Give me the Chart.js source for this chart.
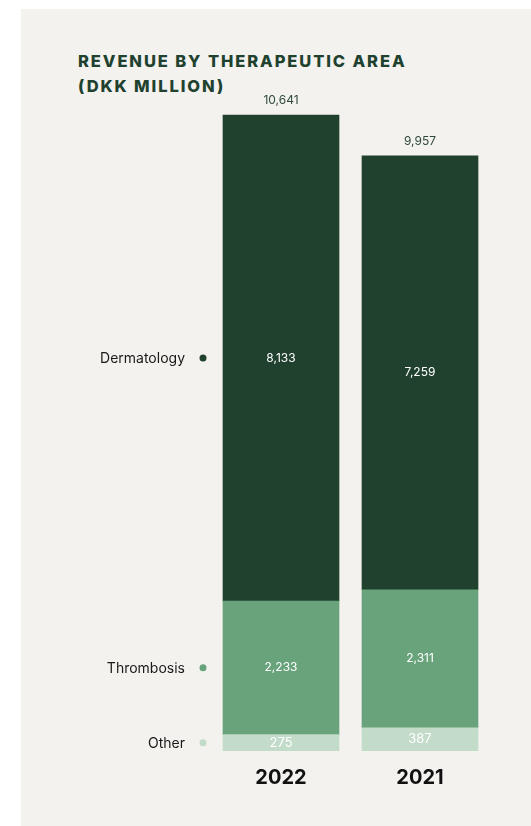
<!DOCTYPE html>
<html>
<head>
<meta charset="utf-8">
<script src="https://cdn.jsdelivr.net/npm/chart.js@4"></script>
<style>
  html, body { margin: 0; padding: 0; background: #ffffff; }
  body { width: 531px; height: 826px; position: relative; overflow: hidden; }
  #panel { position: absolute; left: 21px; top: 9px; right: 0; bottom: 0; background: #f3f2ee; }
  #title {
    position: absolute; left: 78px; top: 49px;
    font-family: "Inter", sans-serif; font-weight: 800; font-size: 16.5px;
    letter-spacing: 1.9px; line-height: 25px; color: #21412f;
  }
  #wrap { position: absolute; left: 0; top: 0; width: 531px; height: 826px; }
</style>
</head>
<body>
<div id="panel"></div>
<div id="title">REVENUE BY THERAPEUTIC AREA<br>(DKK MILLION)</div>
<div id="wrap"><canvas id="chart"></canvas></div>
<script>
const years = ['2022', '2021'];
const areas = ['Other', 'Thrombosis', 'Dermatology'];
const other = [275, 387];
const thrombosis = [2233, 2311];
const dermatology = [8133, 7259];
const totals = [10641, 9957];
const colors = ['#c3dbc9', '#68a37c', '#21412f'];

const fmt = v => v.toLocaleString('en-US');

// value labels, totals, side legend and year labels
const labelsPlugin = {
  id: 'labels',
  afterDatasetsDraw(chart) {
    const ctx = chart.ctx;
    const xs = chart.scales.x;
    ctx.save();
    ctx.textAlign = 'center';
    ctx.textBaseline = 'middle';
    chart.data.datasets.forEach((ds, i) => {
      const meta = chart.getDatasetMeta(i);
      meta.data.forEach((bar, j) => {
        const mid = (bar.y + bar.base) / 2;
        ctx.fillStyle = '#ffffff';
        ctx.font = (i === 0 ? '13px' : '12px') + ' Inter, sans-serif';
        ctx.fillText(fmt(ds.data[j]), bar.x, mid);
        if (j === 0) {
          ctx.textAlign = 'right';
          ctx.fillStyle = '#1a1a1a';
          ctx.font = '14px Inter, sans-serif';
          ctx.fillText(ds.label, 185, mid + 1);
          ctx.beginPath();
          ctx.arc(203, mid, 3.5, 0, Math.PI * 2);
          ctx.fillStyle = colors[i];
          ctx.fill();
          ctx.textAlign = 'center';
        }
      });
    });
    const top = chart.getDatasetMeta(chart.data.datasets.length - 1);
    top.data.forEach((bar, j) => {
      ctx.fillStyle = '#2f4a3c';
      ctx.font = '12px Inter, sans-serif';
      ctx.fillText(fmt(totals[j]), bar.x, bar.y - 15);
      ctx.fillStyle = '#111111';
      ctx.font = 'bold 20px Inter, sans-serif';
      ctx.fillText(years[j], xs.getPixelForValue(j), 778);
    });
    ctx.restore();
  }
};

new Chart(document.getElementById('chart'), {
  type: 'bar',
  data: {
    labels: years,
    datasets: [
      { label: areas[0], data: other, backgroundColor: colors[0] },
      { label: areas[1], data: thrombosis, backgroundColor: colors[1] },
      { label: areas[2], data: dermatology, backgroundColor: colors[2] }
    ]
  },
  options: {
    responsive: true,
    maintainAspectRatio: false,
    animation: false,
    layout: { padding: { left: 211.5, right: 41.5, top: 33.8, bottom: 75 } },
    datasets: { bar: { barThickness: 116 } },
    plugins: { legend: { display: false }, tooltip: { enabled: false } },
    scales: {
      x: { stacked: true, display: false },
      y: { stacked: true, display: false, min: 0, max: 12000 }
    }
  },
  plugins: [labelsPlugin]
});
</script>
</body>
</html>
